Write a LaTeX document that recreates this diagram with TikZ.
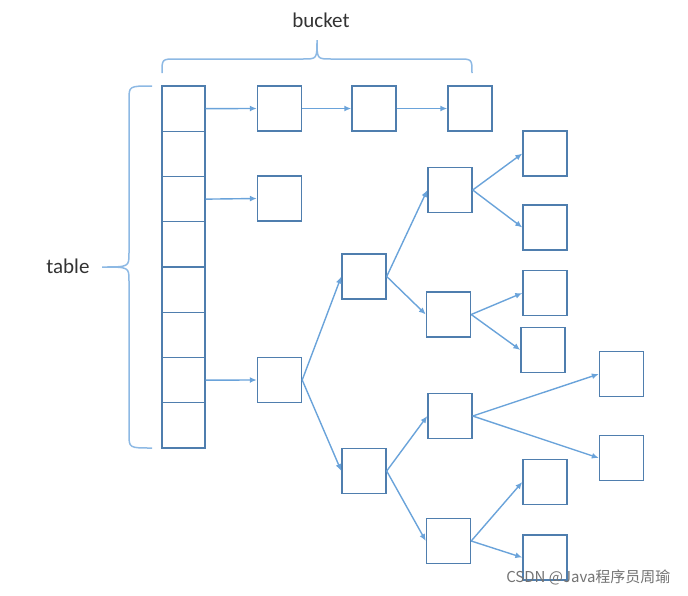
\documentclass[tikz,border=0pt]{standalone}
\usepackage{fontspec}
\setmainfont{Carlito}
\newfontfamily\cjk{Noto Sans CJK SC}
\usetikzlibrary{arrows.meta}
\definecolor{boxline}{HTML}{4F7EAE}
\definecolor{arrowblue}{HTML}{6AA3DA}
\definecolor{braceblue}{HTML}{8DB9E4}
\begin{document}
\begin{tikzpicture}[x=1pt,y=-1pt,
  cell/.style={draw=boxline,line width=1.4pt,minimum width=43pt,minimum height=45.25pt,inner sep=0pt},
  box/.style={draw=boxline,line width=1.4pt,minimum width=44pt,minimum height=45pt,inner sep=0pt},
  link/.style={arrowblue,line width=1.4pt,-{Latex[length=7pt,width=6pt]}},
  brace/.style={braceblue,line width=1.5pt}]
  \useasboundingbox (0,0) rectangle (688,595);
  \foreach \i in {1,...,8}
    \node[cell] (t\i) at (183.5,{86+45.25*(\i-0.5)}) {};
  \node[box] (b1) at (279.5,108.5) {};
  \node[box] (b2) at (374,108.5) {};
  \node[box] (b3) at (470,108.5) {};
  \node[box] (c1) at (279.5,198.5) {};
  \node[box] (r) at (279.5,380) {};
  \node[box] (m1) at (364,276.5) {};
  \node[box] (m2) at (364,471) {};
  \node[box] (n1) at (450,190) {};
  \node[box] (n2) at (448.5,314.5) {};
  \node[box] (n3) at (450,416) {};
  \node[box] (n4) at (448.5,541) {};
  \node[box] (l1) at (545,153.5) {};
  \node[box] (l2) at (545,227.5) {};
  \node[box] (l3) at (545,293) {};
  \node[box] (l4) at (543,350) {};
  \node[box] (l5) at (621.5,374) {};
  \node[box] (l6) at (621.5,458) {};
  \node[box] (l7) at (545,482) {};
  \node[box] (l8) at (545,557.5) {};
  \draw[link] (t1.east) -- (b1.west);
  \draw[link] (b1.east) -- (b2.west);
  \draw[link] (b2.east) -- (b3.west);
  \draw[link] (t3.east) -- (c1.west);
  \draw[link] (t7.east) -- (r.west);
  \foreach \a/\b in {r/m1,r/m2,m1/n1,m1/n2,m2/n3,m2/n4,n1/l1,n1/l2,n2/l3,n2/l4,n3/l5,n3/l6,n4/l7,n4/l8}
    \draw[link] (\a.east) -- (\b.west);
  \draw[brace] (162,73) .. controls (162,59) .. (176,59) -- (303,59)
    .. controls (317,59) .. (317,40) .. controls (317,59) .. (331,59)
    -- (458,59) .. controls (472,59) .. (472,73);
  \draw[brace] (152,86) .. controls (129,86) .. (129,100) -- (129,253)
    .. controls (129,267) .. (102,267) .. controls (129,267) .. (129,281)
    -- (129,434) .. controls (129,448) .. (152,448);
  \node[text=black!80,font=\fontsize{21}{24}\selectfont] (bucket) at (321,20) {bucket};
  \node[text=black!80,font=\fontsize{21}{24}\selectfont,anchor=east] (table) at (93,266) {table};
  \node[text=black!55,font=\cjk\fontsize{15}{17}\selectfont,anchor=east] (mark) at (674,577) {CSDN @Java程序员周瑜};
\end{tikzpicture}
\end{document}
